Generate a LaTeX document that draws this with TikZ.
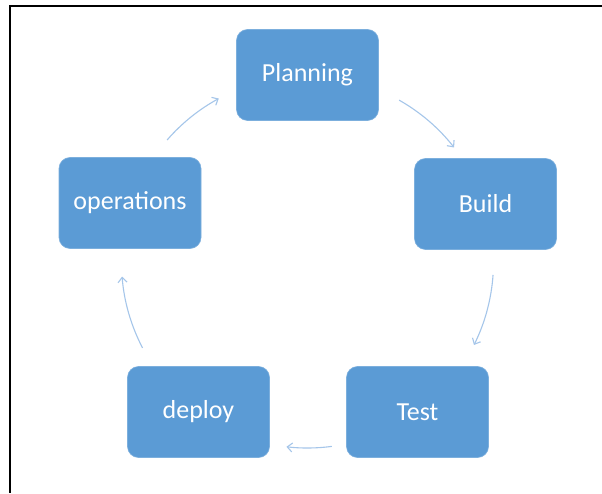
\documentclass[tikz,border=0pt]{standalone}
\usepackage{fontspec}
\setmainfont{Carlito}
\usetikzlibrary{arrows.meta}
\definecolor{boxblue}{HTML}{5B9BD5}
\definecolor{arrblue}{HTML}{A5C6EA}
\tikzset{
  stagebox/.style={rectangle, rounded corners=11pt, fill=boxblue, draw=boxblue!80!white, line width=0.6pt,
    minimum width=142pt, minimum height=91pt, text=white, font=\fontsize{26}{30}\selectfont, inner sep=0pt},
  cyclearrow/.style={draw=arrblue, line width=1.1pt, -{Straight Barb[length=5pt,width=9pt]}},
  framerule/.style={draw=black, line width=2.4pt}
}
\begin{document}
\begin{tikzpicture}[x=1pt,y=1pt]
\useasboundingbox (0,0) rectangle (602,493);
\fill[white] (0,0) rectangle (602,493);
\coordinate (ftl) at (10,487);
\coordinate (ftr) at (602,487);
\coordinate (fbl) at (10,0);
\draw[framerule] (ftr) -- (ftl) -- (fbl);
\coordinate (c) at (307.5,231);
\node[stagebox] (plan) at (307.5,418) {Planning};
\node[stagebox] (build) at (485.5,289) {Build};
\node[stagebox] (ops) at (130,290) {operations};
\node[stagebox] (deploy) at (198.5,81) {deploy};
\node[stagebox] (test) at (417.5,81) {Test};
% arcs between stages, on the circle through the box centres
\draw[cyclearrow] ([shift={(c)}]60.5:186) arc[start angle=60.5, end angle=38, radius=186pt];
\draw[cyclearrow] ([shift={(c)}]-4:186) arc[start angle=-4, end angle=-26.5, radius=186pt];
\draw[cyclearrow] ([shift={(c)}]-82.5:186) arc[start angle=-82.5, end angle=-96.5, radius=186pt];
\draw[cyclearrow] ([shift={(c)}]207.5:186) arc[start angle=207.5, end angle=184.5, radius=186pt];
\draw[cyclearrow] ([shift={(c)}]139:186) arc[start angle=139, end angle=118.5, radius=186pt];
\end{tikzpicture}
\end{document}
